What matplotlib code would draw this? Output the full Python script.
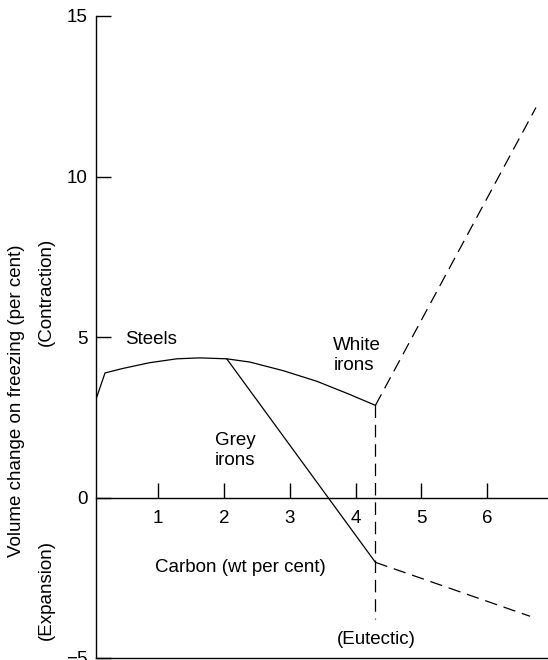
import matplotlib
matplotlib.use("Agg")
import matplotlib.pyplot as plt

plt.rcParams['font.family'] = ['Liberation Sans', 'DejaVu Sans']

# Data (carbon wt%, volume change %)
steel_x = [0.06, 0.19, 0.46, 0.87, 1.28, 1.63, 2.04, 2.39, 2.9, 3.41, 3.91, 4.3]
steel_y = [3.1, 3.88, 4.02, 4.2, 4.32, 4.35, 4.32, 4.22, 3.95, 3.62, 3.21, 2.87]
grey_x = [2.04, 4.3]
grey_y = [4.32, -2.02]
white_dash_x = [4.3, 6.74]
white_dash_y = [2.87, 12.15]
grey_dash_x = [4.3, 6.65]
grey_dash_y = [-2.02, -3.7]
eutectic_x = [4.3, 4.3]
eutectic_y = [2.87, -3.8]

x_ticks = [1, 2, 3, 4, 5, 6]
y_ticks = [-5, 0, 5, 10, 15]

W, H = 548, 660
fig = plt.figure(figsize=(W / 100, H / 100), dpi=100)
left_px, right_px = 96, 546.5
top_px, bot_px = 16, 658
ax = fig.add_axes([left_px / W, (H - bot_px) / H, (right_px - left_px) / W, (bot_px - top_px) / H])

ax.set_xlim(0.053, 6.9)
ax.set_ylim(-5, 15)

lw = 0.9
dash = (0, (10, 5.5))
ax.plot(steel_x, steel_y, color='black', lw=lw)
ax.plot(grey_x, grey_y, color='black', lw=lw)
ax.plot(white_dash_x, white_dash_y, color='black', lw=lw, linestyle=dash)
ax.plot(grey_dash_x, grey_dash_y, color='black', lw=lw, linestyle=dash)
ax.plot(eutectic_x, eutectic_y, color='black', lw=lw, linestyle=dash)

ax.spines['top'].set_visible(False)
ax.spines['right'].set_visible(False)
ax.spines['bottom'].set_position(('data', 0))
for s in ['left', 'bottom']:
    ax.spines[s].set_linewidth(1.0)
ax.axhline(-5, color='black', lw=1.0, clip_on=False)

ax.set_xticks(x_ticks)
ax.set_xticklabels([str(t) for t in x_ticks])
ax.set_yticks(y_ticks)
ax.set_yticklabels(['\u22125', '0', '5', '10', '15'])
ax.tick_params(axis='x', direction='in', length=11, width=1.0, pad=9, labelsize=13.5)
ax.tick_params(axis='y', direction='in', length=11, width=1.0, pad=6, labelsize=13.5)

fs = 13.5
ax.text(0.49, 4.92, 'Steels', fontsize=fs, ha='left', va='center')
ax.text(3.66, 4.42, 'White\nirons', fontsize=fs, ha='left', va='center', linespacing=1.25)
ax.text(1.86, 1.46, 'Grey\nirons', fontsize=fs, ha='left', va='center', linespacing=1.25)
ax.text(2.24, -2.17, 'Carbon (wt per cent)', fontsize=fs, ha='center', va='center')
ax.text(4.31, -4.42, '(Eutectic)', fontsize=fs, ha='center', va='center')

fig.text(17 / W, 1 - 401 / H, 'Volume change on freezing (per cent)', rotation=90,
         fontsize=fs, ha='center', va='center')
fig.text(46 / W, 1 - 292 / H, '(Contraction)', rotation=90, fontsize=fs, ha='center', va='center')
fig.text(46 / W, 1 - 590 / H, '(Expansion)', rotation=90, fontsize=fs, ha='center', va='center')

fig.savefig('out.png', dpi=100)
